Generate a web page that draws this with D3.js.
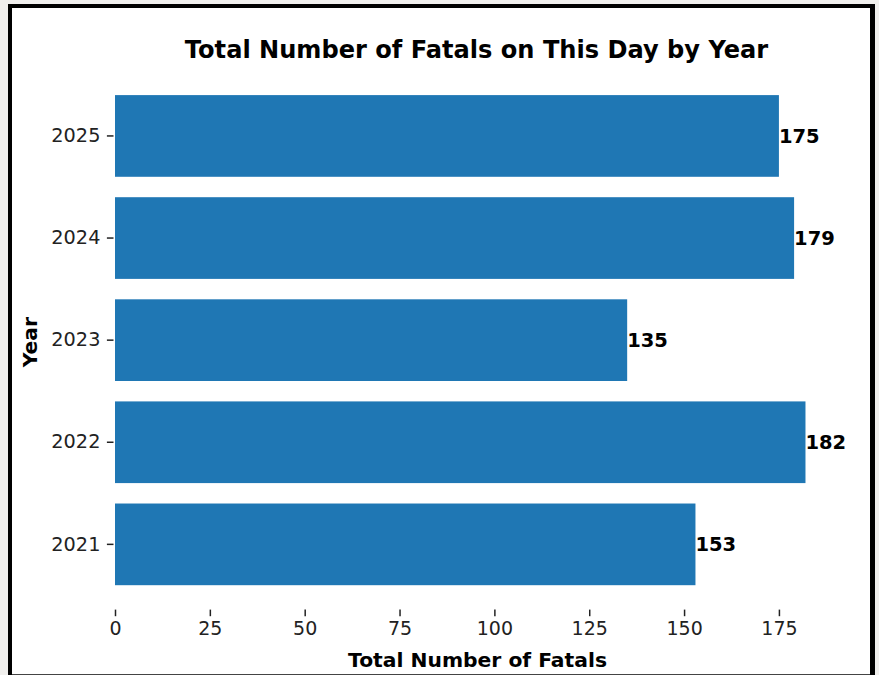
<!DOCTYPE html>
<html>
<head>
<meta charset="utf-8">
<script src="https://cdn.jsdelivr.net/npm/d3@7"></script>
<style>
  html, body { margin: 0; padding: 0; background: #f0efed; }
  svg { display: block; }
  text { font-family: "DejaVu Sans", sans-serif; }
</style>
</head>
<body>
<script>
// ---- data ----
const years = ["2025", "2024", "2023", "2022", "2021"];
const fatals = [175, 179, 135, 182, 153];
const xTicks = [0, 25, 50, 75, 100, 125, 150, 175];
const titleText = "Total Number of Fatals on This Day by Year";
const xLabelText = "Total Number of Fatals";
const yLabelText = "Year";

const W = 879, H = 675;
const svg = d3.select("body").append("svg").attr("width", W).attr("height", H);

// frame
svg.append("rect").attr("x", 0).attr("y", 0).attr("width", W).attr("height", H).attr("fill", "#f0efed");
svg.append("rect").attr("x", 8).attr("y", 4).attr("width", 867).attr("height", 671).attr("fill", "#000");
svg.append("rect").attr("x", 12).attr("y", 8).attr("width", 858).attr("height", 666).attr("fill", "#fff");
svg.append("rect").attr("x", 12).attr("y", 674).attr("width", 858).attr("height", 1).attr("fill", "#444");

const plot = { left: 115, right: 840, top: 70.7, bottom: 609.6 };
const x = d3.scaleLinear().domain([0, d3.max(fatals) * 1.05]).range([plot.left, plot.right]);
const y = d3.scaleBand().domain(years).range([plot.top, plot.bottom]).paddingInner(0.2).paddingOuter(0.239);

const data = years.map((yr, i) => ({ year: yr, value: fatals[i] }));

// bars
svg.append("g").selectAll("rect").data(data).join("rect")
  .attr("x", x(0))
  .attr("y", d => y(d.year))
  .attr("width", d => x(d.value) - x(0))
  .attr("height", y.bandwidth())
  .attr("fill", "#1f77b4");

// value labels
svg.append("g").selectAll("text").data(data).join("text")
  .attr("x", d => x(d.value))
  .attr("y", d => y(d.year) + y.bandwidth() / 2)
  .attr("dy", "0.35em")
  .attr("font-size", 19.5)
  .attr("font-weight", "bold")
  .attr("fill", "#000")
  .text(d => d.value);

// x axis
const xAxis = d3.axisBottom(x).tickValues(xTicks).tickSize(6.6).tickPadding(5);
const gx = svg.append("g").attr("transform", `translate(0,${plot.bottom})`).call(xAxis);
gx.select(".domain").remove();
gx.selectAll(".tick line").attr("stroke", "#222").attr("stroke-width", 1.5);
gx.selectAll(".tick text").attr("font-size", 19).attr("fill", "#222").attr("font-family", "DejaVu Sans");

// y axis
const yAxis = d3.axisLeft(y).tickSize(6.6).tickPadding(6.5);
const gy = svg.append("g").attr("transform", `translate(${plot.left - 1.5},0)`).call(yAxis);
gy.select(".domain").remove();
gy.selectAll(".tick line").attr("stroke", "#222").attr("stroke-width", 1.5);
gy.selectAll(".tick text").attr("font-size", 19.3).attr("fill", "#222").attr("font-family", "DejaVu Sans");

// title
svg.append("text")
  .attr("x", (plot.left + plot.right) / 2 - 1)
  .attr("y", 57.5)
  .attr("text-anchor", "middle")
  .attr("font-size", 24.1)
  .attr("font-weight", "bold")
  .attr("fill", "#000")
  .text(titleText);

// x label
svg.append("text")
  .attr("x", (plot.left + plot.right) / 2)
  .attr("y", 667)
  .attr("text-anchor", "middle")
  .attr("font-size", 20.3)
  .attr("font-weight", "bold")
  .attr("fill", "#000")
  .text(xLabelText);

// y label
svg.append("text")
  .attr("transform", `translate(36.5,${(plot.top + plot.bottom) / 2 + 2}) rotate(-90)`)
  .attr("text-anchor", "middle")
  .attr("font-size", 20.3)
  .attr("font-weight", "bold")
  .attr("fill", "#000")
  .text(yLabelText);
</script>
</body>
</html>
